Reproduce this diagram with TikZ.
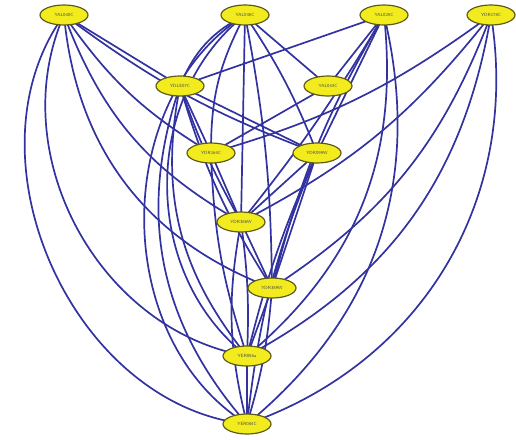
\documentclass[tikz,border=0pt]{standalone}
\usepackage{xcolor}
\usetikzlibrary{shapes.geometric}
\definecolor{GeneFill}{HTML}{F2EC1E}
\definecolor{GeneLine}{HTML}{5E5A18}
\definecolor{LinkLine}{HTML}{3232A0}
\tikzset{
  gene/.style={
    ellipse,
    draw=GeneLine,
    fill=GeneFill,
    line width=1.2pt,
    minimum width=48pt,
    minimum height=20pt,
    inner sep=0pt,
    font=\sffamily\fontsize{4.5}{5}\selectfont,
    text=black!70,
  },
  link/.style={
    draw=LinkLine,
    line width=1.7pt,
  }
}
\begin{document}
\begin{tikzpicture}[x=1pt,y=-1pt]
  \useasboundingbox (0,0) rectangle (516,439);

  % links (drawn first, genes go on top)
  \coordinate (yal040c) at (64,15);
  \coordinate (yal038c) at (245,15);
  \coordinate (yal025c) at (384,15);
  \coordinate (ydr178c) at (491,15);
  \coordinate (ydle07c) at (180,86);
  \coordinate (yal043c) at (328,86);
  \coordinate (ydr164c) at (211,153);
  \coordinate (ydr099w) at (317,153);
  \coordinate (ydr386w) at (241,222);
  \coordinate (ydr389w) at (272,288);
  \coordinate (yer056a) at (247,356);
  \coordinate (yer084c) at (247,424);

  \draw[link] (yal040c) to[bend right=60] (yer084c);
  \draw[link] (yal040c) to[bend right=52] (yer056a);
  \draw[link] (yal040c) to[bend right=32] (ydr389w);
  \draw[link] (yal040c) to[bend right=20] (ydr386w);
  \draw[link] (yal040c) to[bend right=8] (ydr099w);
  \draw[link] (yal040c) to[bend right=12] (ydr164c);
  \draw[link] (yal040c) -- (ydle07c);

  \draw[link] (yal038c) to[bend right=58] (yer084c);
  \draw[link] (yal038c) to[bend right=52] (yer056a);
  \draw[link] (yal038c) to[bend right=14] (ydr164c);
  \draw[link] (yal038c) -- (ydr386w);
  \draw[link] (yal038c) to[bend left=5] (ydr389w);
  \draw[link] (yal038c) -- (yal043c);
  \draw[link] (yal038c) to[bend left=6] (ydr099w);
  \draw[link] (yal038c) to[bend right=20] (ydle07c);

  \draw[link] (yal025c) -- (ydle07c);
  \draw[link] (yal025c) -- (yal043c);
  \draw[link] (yal025c) -- (ydr099w);
  \draw[link] (yal025c) to[bend left=4] (ydr386w);
  \draw[link] (yal025c) to[bend right=8] (ydr389w);
  \draw[link] (yal025c) to[bend left=28] (yer056a);
  \draw[link] (yal025c) to[bend left=32] (yer084c);

  \draw[link] (ydr178c) to[bend left=10] (ydr164c);
  \draw[link] (ydr178c) to[bend left=12] (ydr386w);
  \draw[link] (ydr178c) to[bend left=18] (ydr389w);
  \draw[link] (ydr178c) to[bend left=26] (yer056a);
  \draw[link] (ydr178c) to[bend left=40] (yer084c);

  \draw[link] (ydle07c) -- (ydr164c);
  \draw[link] (ydle07c) -- (ydr099w);
  \draw[link] (ydle07c) to[bend right=5] (ydr386w);
  \draw[link] (ydle07c) to[bend right=8] (ydr389w);
  \draw[link] (ydle07c) to[bend right=25] (yer056a);
  \draw[link] (ydle07c) to[bend right=30] (yer084c);

  \draw[link] (yal043c) -- (ydr164c);

  \draw[link] (ydr164c) -- (ydr386w);
  \draw[link] (ydr164c) to[bend right=8] (yer056a);

  \draw[link] (ydr099w) -- (ydr386w);
  \draw[link] (ydr099w) -- (ydr389w);
  \draw[link] (ydr099w) to[bend right=5] (yer056a);
  \draw[link] (ydr099w) to[bend right=8] (yer084c);

  \draw[link] (ydr386w) -- (ydr389w);
  \draw[link] (ydr386w) to[bend left=5] (yer056a);
  \draw[link] (ydr386w) to[bend right=12] (yer084c);

  \draw[link] (ydr389w) -- (yer056a);
  \draw[link] (ydr389w) to[bend left=6] (yer084c);

  \draw[link] (yer056a) -- (yer084c);

  % genes
  \node[gene] (n1) at (yal040c) {YAL040C};
  \node[gene] (n2) at (yal038c) {YAL038C};
  \node[gene] (n3) at (yal025c) {YAL025C};
  \node[gene] (n4) at (ydr178c) {YDR178C};
  \node[gene] (n5) at (ydle07c) {YDLE07C};
  \node[gene] (n6) at (yal043c) {YAL043C};
  \node[gene] (n7) at (ydr164c) {YDR164C};
  \node[gene] (n8) at (ydr099w) {YDR099W};
  \node[gene] (n9) at (ydr386w) {YDR386W};
  \node[gene] (n10) at (ydr389w) {YDR389W};
  \node[gene] (n11) at (yer056a) {YER056a};
  \node[gene] (n12) at (yer084c) {YER084C};
\end{tikzpicture}
\end{document}
